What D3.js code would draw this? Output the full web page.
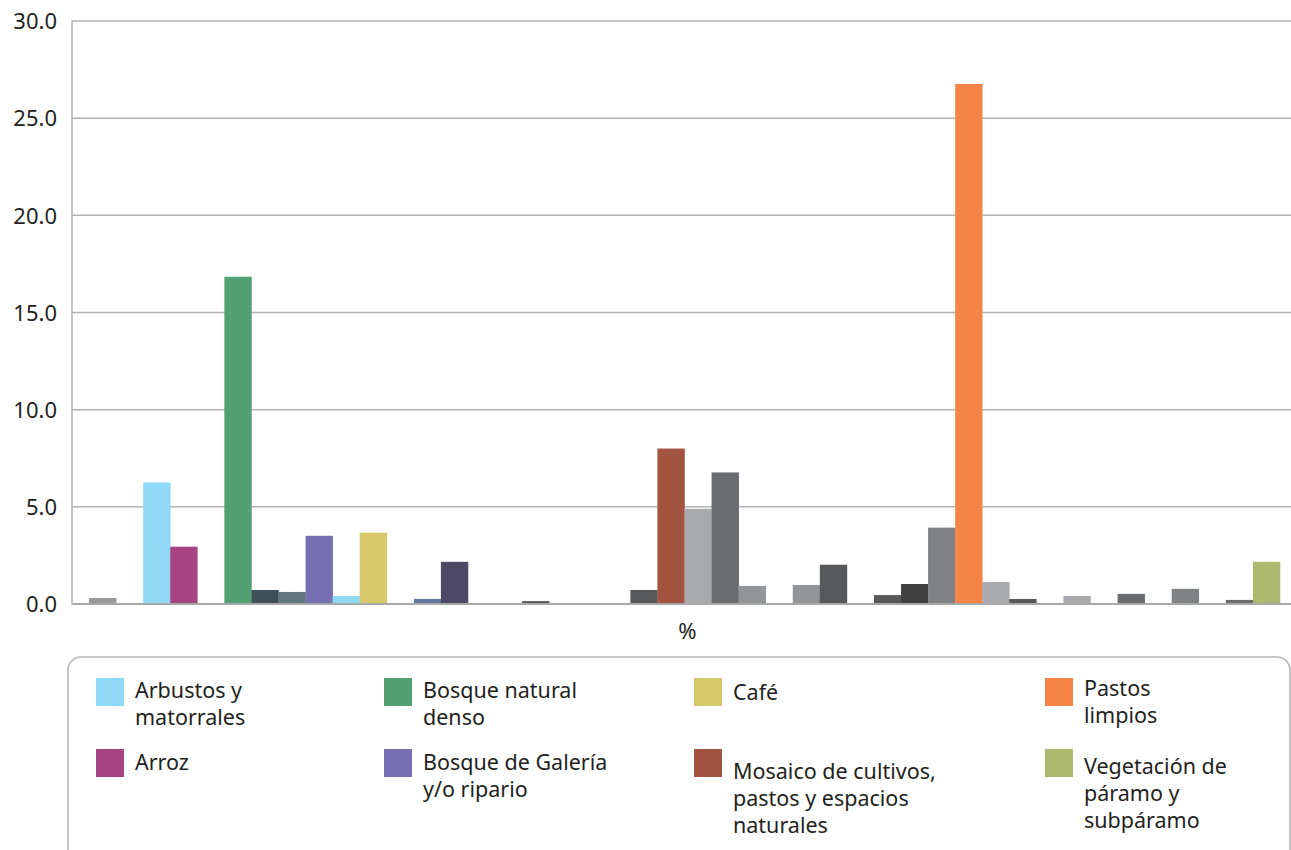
<!DOCTYPE html>
<html>
<head>
<meta charset="utf-8">
<script src="https://cdn.jsdelivr.net/npm/d3@7/dist/d3.min.js"></script>
<style>
  html, body { margin: 0; padding: 0; background: #ffffff; }
  svg { display: block; }
  text { font-family: "Noto Sans", "Open Sans", sans-serif; fill: #231f20; }
</style>
</head>
<body>
<script>
// ---- data ----
const categories = ["%"];
const seriesValues = [0.31, 0, 6.25, 2.95, 0, 16.84, 0.72, 0.62, 3.51, 0.41, 3.67, 0, 0.26, 2.17, 0, 0,
  0.15, 0, 0, 0, 0.72, 8.0, 4.9, 6.77, 0.93, 0, 0.98, 2.02, 0, 0.46, 1.03, 3.93, 26.76, 1.13, 0.26, 0,
  0.41, 0, 0.52, 0, 0.78, 0, 0.21, 2.17];
const seriesColors = ["#98989a", "#a7a9ac", "#8fd8f6", "#a64484", "#a7a9ac", "#53a173", "#414f59", "#62777d",
  "#7670b2", "#8fd8f6", "#d8ca6c", "#a7a9ac", "#62799b", "#4e4867", "#a7a9ac", "#a7a9ac",
  "#58595b", "#a7a9ac", "#a7a9ac", "#a7a9ac", "#58595b", "#a35440", "#a9aaad", "#6b6c70",
  "#939598", "#a7a9ac", "#939598", "#58595b", "#a7a9ac", "#58595b", "#404040", "#808285",
  "#f58446", "#a9aaad", "#58595b", "#a7a9ac", "#a9aaad", "#a7a9ac", "#6b6c70", "#a7a9ac",
  "#808285", "#a7a9ac", "#6b6c70", "#adb96f"];
const seriesNames = seriesValues.map((v, i) => "Serie " + (i + 1));
const legendSeries = [2, 3, 5, 8, 10, 21, 32, 43];
const legendLabels = [
  ["Arbustos y", "matorrales"],
  ["Arroz"],
  ["Bosque natural", "denso"],
  ["Bosque de Galería", "y/o ripario"],
  ["Café"],
  ["Mosaico de cultivos,", "pastos y espacios", "naturales"],
  ["Pastos", "limpios"],
  ["Vegetación de", "páramo y", "subpáramo"]
];
const yTicks = [0, 5, 10, 15, 20, 25, 30];

// ---- layout ----
const W = 1291, H = 850;
const plotLeft = 72, plotRight = 1297, plotTop = 21, plotBottom = 604;

const svg = d3.select("body").append("svg").attr("width", W).attr("height", H);

const y = d3.scaleLinear().domain([0, 30]).range([plotBottom, plotTop]);
const x0 = d3.scaleBand().domain(categories).range([plotLeft, plotRight]).paddingInner(0).paddingOuter(0.0143);
const x1 = d3.scaleBand().domain(d3.range(seriesValues.length)).range([0, x0.bandwidth()]).padding(0);

// gridlines
svg.append("g").selectAll("line").data(yTicks.filter(t => t > 0)).join("line")
  .attr("x1", plotLeft).attr("x2", W)
  .attr("y1", d => y(d)).attr("y2", d => y(d))
  .attr("stroke", "#b3b3b3").attr("stroke-width", 1.5);

// bars
const g = svg.append("g").attr("transform", `translate(${x0(categories[0])},0)`);
g.selectAll("rect").data(seriesValues.map((v, i) => ({ v, i }))).join("rect")
  .attr("x", d => x1(d.i))
  .attr("width", x1.bandwidth() + 0.3)
  .attr("y", d => y(d.v))
  .attr("height", d => y(0) - y(d.v))
  .attr("fill", d => seriesColors[d.i]);

// baseline axis
svg.append("line").attr("x1", plotLeft).attr("x2", W).attr("y1", y(0)).attr("y2", y(0))
  .attr("stroke", "#a8a8a8").attr("stroke-width", 2);
// left axis line
svg.append("line").attr("x1", plotLeft).attr("x2", plotLeft).attr("y1", plotTop - 0.75).attr("y2", y(0) + 1)
  .attr("stroke", "#b3b3b3").attr("stroke-width", 1.5);

// y tick labels via axis
const yAxis = svg.append("g").attr("transform", `translate(${plotLeft - 15},0)`)
  .call(d3.axisLeft(y).tickValues(yTicks).tickFormat(d3.format(".1f")).tickSize(0).tickPadding(0));
yAxis.select(".domain").remove();
yAxis.selectAll("text").attr("font-size", 22).attr("font-family", "'Noto Sans', sans-serif")
  .attr("fill", "#231f20").attr("dy", "0.35em");

// category label
svg.append("text").attr("x", x0(categories[0]) + x0.bandwidth() / 2 + 3).attr("y", 639)
  .attr("text-anchor", "middle").attr("font-size", 22).text(categories[0]);

// legend box
svg.append("rect").attr("x", 68).attr("y", 657).attr("width", 1222).attr("height", 220)
  .attr("rx", 13).attr("ry", 13).attr("fill", "none").attr("stroke", "#b5b5b5").attr("stroke-width", 1.5);

const colX = [96, 384, 694, 1045];
const rowY = [678, 749];
const firstLineY = [[690, 762], [690, 762], [692, 771], [688, 766]];
const lineH = 27.3;
legendSeries.forEach((si, k) => {
  const col = Math.floor(k / 2), row = k % 2;
  const lg = svg.append("g");
  lg.append("rect").attr("x", colX[col]).attr("y", rowY[row]).attr("width", 28).attr("height", 28)
    .attr("fill", seriesColors[si]);
  legendLabels[k].forEach((t, li) => {
    lg.append("text").attr("x", colX[col] + 39).attr("y", firstLineY[col][row] + li * lineH)
      .attr("dy", "0.35em").attr("font-size", 21.5).text(t);
  });
});
</script>
</body>
</html>
